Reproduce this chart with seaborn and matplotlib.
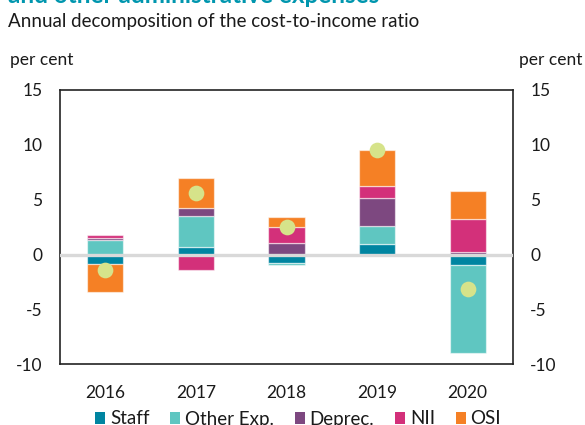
import matplotlib
matplotlib.use("Agg")
import matplotlib.pyplot as plt
from matplotlib.patches import Patch
import numpy as np
import seaborn as sns

# Contributions to the annual change in the cost-to-income ratio (percentage points)
years = ["2016", "2017", "2018", "2019", "2020"]
staff = [-0.85, 0.65, -0.78, 0.97, -0.95]
other_exp = [1.35, 2.85, -0.15, 1.66, -8.05]
deprec = [0.15, 0.75, 1.06, 2.50, 0.20]
nii = [0.30, -1.45, 1.41, 1.09, 3.05]
osi = [-2.55, 2.70, 0.91, 3.29, 2.55]
total = [-1.40, 5.65, 2.55, 9.50, -3.15]

series_names = ["Staff", "Other Exp.", "Deprec.", "NII", "OSI"]
series_values = [staff, other_exp, deprec, nii, osi]
series_colors = ["#0085a1", "#5fc6c1", "#7d4880", "#d3307a", "#f58025"]
dot_color = "#d6e38a"

sns.set_style("white")
plt.rcParams["font.family"] = ["Lato", "DejaVu Sans"]
plt.rcParams["text.color"] = "#1a1a1a"

fig = plt.figure(figsize=(5.85, 4.25), dpi=100)
ax = fig.add_axes([60 / 585, 1 - 364.3 / 425, 453 / 585, 274.3 / 425])

# stack positive and negative contributions separately
pos_base = np.zeros(len(years))
neg_base = np.zeros(len(years))
for name, vals, col in zip(series_names, series_values, series_colors):
    vals = np.asarray(vals, dtype=float)
    bottoms = np.where(vals >= 0, pos_base, neg_base)
    sns.barplot(x=years, y=vals, bottom=bottoms, color=col, width=0.4,
                errorbar=None, saturation=1, edgecolor=(1, 1, 1, 0.55),
                linewidth=0.9, ax=ax, zorder=2)
    pos_base = np.where(vals >= 0, pos_base + vals, pos_base)
    neg_base = np.where(vals < 0, neg_base + vals, neg_base)

ax.axhline(0, color="#d9d9d9", lw=2.4, zorder=3)

sns.stripplot(x=years, y=total, jitter=False, size=11.3, color=dot_color,
              linewidth=0, ax=ax, zorder=5)

ax.set_xlim(-0.5, 4.5)
ax.set_ylim(-10, 15)
ax.set_yticks([-10, -5, 0, 5, 10, 15])
ax.set_yticklabels(["-10", "-5", "0", "5", "10", "15"])
ax.set_xlabel("")
ax.set_ylabel("")
ax.tick_params(axis="y", length=0, pad=12.5, labelsize=12.5,
               labelleft=True, labelright=True, colors="#1a1a1a")
ax.tick_params(axis="x", length=0, pad=15, labelsize=12.5, colors="#1a1a1a")
for sp in ax.spines.values():
    sp.set_visible(True)
    sp.set_color("#222222")
    sp.set_linewidth(1.2)

fig.text(8 / 585, 1 - 3.3 / 425, "and other administrative expenses",
         fontsize=17.5, fontweight="bold", color="#0096ae", va="baseline")
fig.text(8 / 585, 1 - 26.7 / 425, "Annual decomposition of the cost-to-income ratio",
         fontsize=13.5, va="baseline")
fig.text(10 / 585, 1 - 65 / 425, "per cent", fontsize=12.5, va="baseline")
fig.text(519 / 585, 1 - 65 / 425, "per cent", fontsize=12.5, va="baseline")

handles = [Patch(facecolor=c, edgecolor="none") for c in series_colors]
fig.legend(handles, series_names, loc="center", bbox_to_anchor=(298 / 585, 1 - 419 / 425),
           ncol=5, frameon=False, fontsize=13.5, handlelength=0.55, handleheight=0.55,
           handletextpad=0.25, columnspacing=1.1, borderaxespad=0, borderpad=0)

fig.savefig("out.png", dpi=100)
